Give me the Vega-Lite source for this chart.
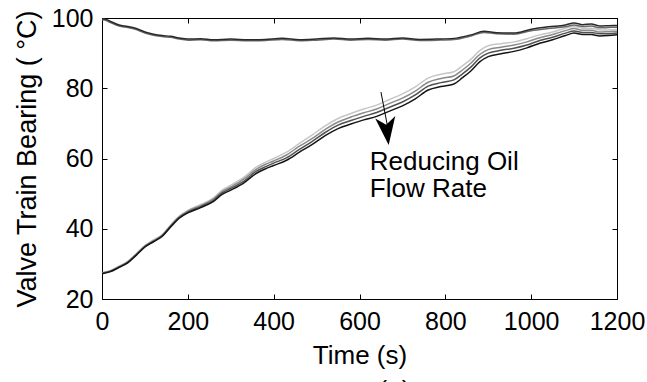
{
  "$schema": "https://vega.github.io/schema/vega-lite/v6.json",
  "width": 515,
  "height": 281,
  "autosize": {"type": "none"},
  "padding": {"left": 102, "top": 18, "right": 30, "bottom": 83},
  "background": "white",
  "config": {
    "font": "Liberation Sans",
    "view": {"stroke": "black", "strokeWidth": 1},
    "axis": {
      "grid": false,
      "domainColor": "black",
      "domainWidth": 1,
      "tickColor": "black",
      "tickWidth": 1,
      "tickSize": -5,
      "labelPadding": 14,
      "labelFont": "Liberation Sans",
      "labelFontSize": 25,
      "labelColor": "black",
      "titleFont": "Liberation Sans",
      "titleFontSize": 26,
      "titleFontWeight": "normal",
      "titleColor": "black",
      "labelFlush": false,
      "labelOverlap": false,
      "format": "d"
    }
  },
  "title": {"text": "(a)", "orient": "bottom", "fontSize": 26, "font": "Liberation Sans", "fontWeight": "normal", "color": "black", "dx": 35, "offset": 10},
  "datasets": {
    "curves": [
      {"s":"L","t":0,"v":27.5},{"s":"L","t":20,"v":28.1},{"s":"L","t":40,"v":29.4},{"s":"L","t":60,"v":30.7},{"s":"L","t":80,"v":32.9},{"s":"L","t":100,"v":35.2},{"s":"L","t":120,"v":36.8},{"s":"L","t":140,"v":38.3},{"s":"L","t":160,"v":41.1},{"s":"L","t":180,"v":43.6},{"s":"L","t":200,"v":45.2},{"s":"L","t":230,"v":46.9},{"s":"L","t":260,"v":48.8},{"s":"L","t":280,"v":51.0},{"s":"L","t":300,"v":52.4},{"s":"L","t":330,"v":54.6},{"s":"L","t":360,"v":57.6},{"s":"L","t":380,"v":58.9},{"s":"L","t":400,"v":60.0},{"s":"L","t":430,"v":61.8},{"s":"L","t":460,"v":64.3},{"s":"L","t":490,"v":66.7},{"s":"L","t":520,"v":69.3},{"s":"L","t":550,"v":71.4},{"s":"L","t":580,"v":72.8},{"s":"L","t":610,"v":74.1},{"s":"L","t":640,"v":75.2},{"s":"L","t":670,"v":76.8},{"s":"L","t":700,"v":78.4},{"s":"L","t":730,"v":80.4},{"s":"L","t":760,"v":82.9},{"s":"L","t":790,"v":84.0},{"s":"L","t":820,"v":84.7},{"s":"L","t":840,"v":86.4},{"s":"L","t":860,"v":88.3},{"s":"L","t":880,"v":90.7},{"s":"L","t":900,"v":92.1},{"s":"L","t":930,"v":92.7},{"s":"L","t":960,"v":93.2},{"s":"L","t":990,"v":94.1},{"s":"L","t":1020,"v":95.2},{"s":"L","t":1050,"v":96.0},{"s":"L","t":1080,"v":97.1},{"s":"L","t":1100,"v":97.6},{"s":"L","t":1120,"v":97.1},{"s":"L","t":1140,"v":97.1},{"s":"L","t":1160,"v":96.6},{"s":"L","t":1180,"v":96.6},{"s":"L","t":1200,"v":96.7},
      {"s":"G","t":0,"v":27.4},{"s":"G","t":20,"v":28.0},{"s":"G","t":40,"v":29.2},{"s":"G","t":60,"v":30.6},{"s":"G","t":80,"v":32.8},{"s":"G","t":100,"v":35.1},{"s":"G","t":120,"v":36.6},{"s":"G","t":140,"v":38.1},{"s":"G","t":160,"v":40.9},{"s":"G","t":180,"v":43.4},{"s":"G","t":200,"v":45.0},{"s":"G","t":230,"v":46.6},{"s":"G","t":260,"v":48.5},{"s":"G","t":280,"v":50.6},{"s":"G","t":300,"v":51.9},{"s":"G","t":330,"v":54.1},{"s":"G","t":360,"v":57.0},{"s":"G","t":380,"v":58.3},{"s":"G","t":400,"v":59.3},{"s":"G","t":430,"v":61.0},{"s":"G","t":460,"v":63.5},{"s":"G","t":490,"v":65.7},{"s":"G","t":520,"v":68.3},{"s":"G","t":550,"v":70.4},{"s":"G","t":580,"v":71.8},{"s":"G","t":610,"v":73.0},{"s":"G","t":640,"v":74.1},{"s":"G","t":670,"v":75.7},{"s":"G","t":700,"v":77.2},{"s":"G","t":730,"v":79.2},{"s":"G","t":760,"v":81.7},{"s":"G","t":790,"v":82.8},{"s":"G","t":820,"v":83.5},{"s":"G","t":840,"v":85.2},{"s":"G","t":860,"v":87.2},{"s":"G","t":880,"v":89.6},{"s":"G","t":900,"v":91.0},{"s":"G","t":930,"v":91.7},{"s":"G","t":960,"v":92.3},{"s":"G","t":990,"v":93.2},{"s":"G","t":1020,"v":94.4},{"s":"G","t":1050,"v":95.3},{"s":"G","t":1080,"v":96.4},{"s":"G","t":1100,"v":97.0},{"s":"G","t":1120,"v":96.5},{"s":"G","t":1140,"v":96.5},{"s":"G","t":1160,"v":96.0},{"s":"G","t":1180,"v":96.1},{"s":"G","t":1200,"v":96.2},
      {"s":"D","t":0,"v":27.3},{"s":"D","t":20,"v":27.9},{"s":"D","t":40,"v":29.1},{"s":"D","t":60,"v":30.4},{"s":"D","t":80,"v":32.6},{"s":"D","t":100,"v":34.9},{"s":"D","t":120,"v":36.4},{"s":"D","t":140,"v":38.0},{"s":"D","t":160,"v":40.7},{"s":"D","t":180,"v":43.2},{"s":"D","t":200,"v":44.7},{"s":"D","t":230,"v":46.3},{"s":"D","t":260,"v":48.1},{"s":"D","t":280,"v":50.2},{"s":"D","t":300,"v":51.5},{"s":"D","t":330,"v":53.5},{"s":"D","t":360,"v":56.4},{"s":"D","t":380,"v":57.6},{"s":"D","t":400,"v":58.7},{"s":"D","t":430,"v":60.2},{"s":"D","t":460,"v":62.6},{"s":"D","t":490,"v":64.9},{"s":"D","t":520,"v":67.4},{"s":"D","t":550,"v":69.5},{"s":"D","t":580,"v":70.8},{"s":"D","t":610,"v":72.0},{"s":"D","t":640,"v":73.1},{"s":"D","t":670,"v":74.6},{"s":"D","t":700,"v":76.1},{"s":"D","t":730,"v":78.1},{"s":"D","t":760,"v":80.6},{"s":"D","t":790,"v":81.6},{"s":"D","t":820,"v":82.4},{"s":"D","t":840,"v":84.1},{"s":"D","t":860,"v":86.1},{"s":"D","t":880,"v":88.6},{"s":"D","t":900,"v":90.0},{"s":"D","t":930,"v":90.8},{"s":"D","t":960,"v":91.4},{"s":"D","t":990,"v":92.3},{"s":"D","t":1020,"v":93.6},{"s":"D","t":1050,"v":94.5},{"s":"D","t":1080,"v":95.7},{"s":"D","t":1100,"v":96.3},{"s":"D","t":1120,"v":95.9},{"s":"D","t":1140,"v":95.9},{"s":"D","t":1160,"v":95.5},{"s":"D","t":1180,"v":95.5},{"s":"D","t":1200,"v":95.7},
      {"s":"K","t":0,"v":27.2},{"s":"K","t":20,"v":27.8},{"s":"K","t":40,"v":29.0},{"s":"K","t":60,"v":30.3},{"s":"K","t":80,"v":32.5},{"s":"K","t":100,"v":34.8},{"s":"K","t":120,"v":36.3},{"s":"K","t":140,"v":37.8},{"s":"K","t":160,"v":40.5},{"s":"K","t":180,"v":43.0},{"s":"K","t":200,"v":44.5},{"s":"K","t":230,"v":46.0},{"s":"K","t":260,"v":47.8},{"s":"K","t":280,"v":49.8},{"s":"K","t":300,"v":51.0},{"s":"K","t":330,"v":53.0},{"s":"K","t":360,"v":55.8},{"s":"K","t":380,"v":57.0},{"s":"K","t":400,"v":58.0},{"s":"K","t":430,"v":59.5},{"s":"K","t":460,"v":61.8},{"s":"K","t":490,"v":64.0},{"s":"K","t":520,"v":66.5},{"s":"K","t":550,"v":68.5},{"s":"K","t":580,"v":69.8},{"s":"K","t":610,"v":71.0},{"s":"K","t":640,"v":72.0},{"s":"K","t":670,"v":73.5},{"s":"K","t":700,"v":75.0},{"s":"K","t":730,"v":77.0},{"s":"K","t":760,"v":79.5},{"s":"K","t":790,"v":80.5},{"s":"K","t":820,"v":81.2},{"s":"K","t":840,"v":83.0},{"s":"K","t":860,"v":85.0},{"s":"K","t":880,"v":87.5},{"s":"K","t":900,"v":89.0},{"s":"K","t":930,"v":89.8},{"s":"K","t":960,"v":90.5},{"s":"K","t":990,"v":91.5},{"s":"K","t":1020,"v":92.8},{"s":"K","t":1050,"v":93.8},{"s":"K","t":1080,"v":95.0},{"s":"K","t":1100,"v":95.7},{"s":"K","t":1120,"v":95.3},{"s":"K","t":1140,"v":95.3},{"s":"K","t":1160,"v":94.9},{"s":"K","t":1180,"v":95.0},{"s":"K","t":1200,"v":95.2},
      {"s":"UD","t":0,"v":99.5},{"s":"UD","t":10,"v":99.3},{"s":"UD","t":20,"v":98.7},{"s":"UD","t":40,"v":97.7},{"s":"UD","t":60,"v":97.3},{"s":"UD","t":80,"v":96.7},{"s":"UD","t":100,"v":95.7},{"s":"UD","t":120,"v":95.1},{"s":"UD","t":140,"v":94.7},{"s":"UD","t":160,"v":94.5},{"s":"UD","t":180,"v":94.0},{"s":"UD","t":200,"v":93.7},{"s":"UD","t":230,"v":93.8},{"s":"UD","t":260,"v":93.5},{"s":"UD","t":300,"v":93.7},{"s":"UD","t":340,"v":93.5},{"s":"UD","t":380,"v":93.6},{"s":"UD","t":420,"v":93.9},{"s":"UD","t":460,"v":93.5},{"s":"UD","t":500,"v":93.7},{"s":"UD","t":540,"v":94.0},{"s":"UD","t":580,"v":93.7},{"s":"UD","t":620,"v":93.9},{"s":"UD","t":660,"v":93.7},{"s":"UD","t":700,"v":94.0},{"s":"UD","t":740,"v":93.6},{"s":"UD","t":780,"v":93.7},{"s":"UD","t":820,"v":93.9},{"s":"UD","t":860,"v":94.9},{"s":"UD","t":890,"v":95.9},{"s":"UD","t":920,"v":95.5},{"s":"UD","t":960,"v":95.4},{"s":"UD","t":1000,"v":96.4},{"s":"UD","t":1040,"v":97.0},{"s":"UD","t":1080,"v":97.5},{"s":"UD","t":1100,"v":98.0},{"s":"UD","t":1120,"v":97.6},{"s":"UD","t":1140,"v":97.7},{"s":"UD","t":1160,"v":97.2},{"s":"UD","t":1180,"v":97.3},{"s":"UD","t":1200,"v":97.4},
      {"s":"UK","t":0,"v":99.8},{"s":"UK","t":10,"v":99.6},{"s":"UK","t":20,"v":99.0},{"s":"UK","t":40,"v":98.0},{"s":"UK","t":60,"v":97.6},{"s":"UK","t":80,"v":97.0},{"s":"UK","t":100,"v":96.0},{"s":"UK","t":120,"v":95.4},{"s":"UK","t":140,"v":95.0},{"s":"UK","t":160,"v":94.8},{"s":"UK","t":180,"v":94.3},{"s":"UK","t":200,"v":94.0},{"s":"UK","t":230,"v":94.1},{"s":"UK","t":260,"v":93.8},{"s":"UK","t":300,"v":94.0},{"s":"UK","t":340,"v":93.8},{"s":"UK","t":380,"v":93.9},{"s":"UK","t":420,"v":94.2},{"s":"UK","t":460,"v":93.8},{"s":"UK","t":500,"v":94.0},{"s":"UK","t":540,"v":94.3},{"s":"UK","t":580,"v":94.0},{"s":"UK","t":620,"v":94.2},{"s":"UK","t":660,"v":94.0},{"s":"UK","t":700,"v":94.3},{"s":"UK","t":740,"v":93.9},{"s":"UK","t":780,"v":94.0},{"s":"UK","t":820,"v":94.2},{"s":"UK","t":860,"v":95.2},{"s":"UK","t":890,"v":96.2},{"s":"UK","t":920,"v":95.8},{"s":"UK","t":960,"v":95.7},{"s":"UK","t":1000,"v":96.8},{"s":"UK","t":1040,"v":97.5},{"s":"UK","t":1080,"v":98.0},{"s":"UK","t":1100,"v":98.6},{"s":"UK","t":1120,"v":98.1},{"s":"UK","t":1140,"v":98.3},{"s":"UK","t":1160,"v":97.7},{"s":"UK","t":1180,"v":97.8},{"s":"UK","t":1200,"v":97.9}
    ],
    "arrow": [{"t": 650, "v": 78.9}, {"t": 666, "v": 68.7}],
    "head": [{"t": 664, "v": 67.8}],
    "notes": [{"t": 624, "v": 56.7, "label": "Reducing Oil"}, {"t": 624, "v": 48.9, "label": "Flow Rate"}],
    "frame": [{"t": 0, "v": 20}]
  },
  "layer": [
    {
      "data": {"name": "curves"},
      "mark": {"type": "line", "strokeWidth": 1.5, "interpolate": "monotone"},
      "encoding": {
        "x": {"field": "t", "type": "quantitative", "scale": {"domain": [0, 1200], "nice": false, "zero": false},
              "axis": {"orient": "bottom", "values": [0, 200, 400, 600, 800, 1000, 1200], "title": "Time (s)", "labelPadding": 15, "titlePadding": 8}},
        "y": {"field": "v", "type": "quantitative", "scale": {"domain": [20, 100], "nice": false, "zero": false},
              "axis": {"orient": "left", "values": [20, 40, 60, 80, 100], "title": "Valve Train Bearing ( °C)", "titleFontSize": 27, "titlePadding": 10}},
        "color": {"field": "s", "type": "nominal", "legend": null,
                  "scale": {"domain": ["L", "G", "D", "K", "UD", "UK"], "range": ["#c6c6c6", "#8a8a8a", "#505050", "#151515", "#6a6a6a", "#2a2a2a"]}},
        "order": {"field": "t", "type": "quantitative"}
      }
    },
    {
      "data": {"name": "frame"},
      "mark": {"type": "point", "opacity": 0},
      "encoding": {
        "x": {"field": "t", "type": "quantitative", "axis": {"orient": "top", "values": [0, 200, 400, 600, 800, 1000, 1200], "labels": false, "title": null}},
        "y": {"field": "v", "type": "quantitative", "axis": {"orient": "right", "values": [20, 40, 60, 80, 100], "labels": false, "title": null}}
      }
    },
    {
      "data": {"name": "arrow"},
      "mark": {"type": "line", "color": "black", "strokeWidth": 1},
      "encoding": {
        "x": {"field": "t", "type": "quantitative", "axis": null},
        "y": {"field": "v", "type": "quantitative", "axis": null}
      }
    },
    {
      "data": {"name": "head"},
      "mark": {"type": "point", "shape": "M0,1L-0.72,-1L0,-0.45L0.72,-1Z", "filled": true, "color": "black", "opacity": 1, "size": 784, "angle": 353},
      "encoding": {
        "x": {"field": "t", "type": "quantitative", "axis": null},
        "y": {"field": "v", "type": "quantitative", "axis": null}
      }
    },
    {
      "data": {"name": "notes"},
      "mark": {"type": "text", "align": "left", "baseline": "alphabetic", "fontSize": 26, "font": "Liberation Sans", "color": "black"},
      "encoding": {
        "x": {"field": "t", "type": "quantitative", "axis": null},
        "y": {"field": "v", "type": "quantitative", "axis": null},
        "text": {"field": "label"}
      }
    }
  ],
  "resolve": {"axis": {"x": "independent", "y": "independent"}}
}
